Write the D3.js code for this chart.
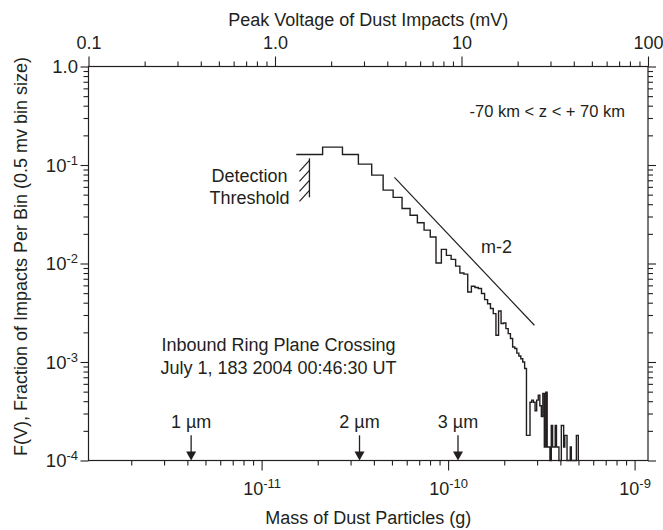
<!DOCTYPE html>
<html><head><meta charset="utf-8">
<script src="https://cdn.jsdelivr.net/npm/d3@7"></script>
<style>
html,body{margin:0;padding:0;background:#fff;}
svg{display:block;font-family:"Liberation Sans",Arial,Helvetica,sans-serif;}
</style></head><body>
<svg id="chart" width="663" height="530"></svg>
<script>
// Peak-voltage histogram: 0.5 mV bins starting at 1.3 mV, fraction of impacts per bin
const binStart = 1.3;
const binWidth = 0.5;
const binFraction = [
  0.128, 0.152, 0.128, 0.102, 0.0789, 0.0556, 0.0469, 0.0362, 0.0309, 0.0259,
  0.0218, 0.0186, 0.0101, 0.0139, 0.0121, 0.0110, 0.0094, 0.0080, 0.0078, 0.00514,
  0.00588, 0.0057, 0.00557, 0.00496, 0.0043, 0.0039, 0.00349, 0.0031, 0.00187, 0.0033,
  0.00246, 0.00249, 0.00218, 0.00194, 0.00173, 0.00142, 0.00137, 0.00123, 0.00115, 0.00108,
  0.0010, 0.00086, 0.00018, 0.00018, 0.00039, 0.00041, 0.00039, 0.00032, 0.00041, 0.00046,
  0.00036, 0.00028, 0.00048, 0.000137, 0.000495, 0.000137, 0.000137, 0, 0.000227, 0.000137,
  0.000137, 0.000227, 0.000137, 0.000137, 0, 0, 0.000227, 0.000227, 0.000137, 0.00018,
  0.00018, 0, 0, 0, 0.000137, 0, 0, 0, 0, 0,
  0.00018, 0.00018
];

// Axis ticks and labels
const voltageTicks = [0.1, 1, 10, 100];
const voltageTickLabels = ["0.1", "1.0", "10", "100"];
const massTicks = [1e-11, 1e-10, 1e-9];
const massTickExponents = ["-11", "-10", "-9"];
const fractionTicks = [1, 1e-1, 1e-2, 1e-3, 1e-4];
const fractionTickBases = ["1.0", "10", "10", "10", "10"];
const fractionTickExponents = ["", "-1", "-2", "-3", "-4"];

// Particle radius markers (mass in grams)
const radiusLabels = ["1 \u00b5m", "2 \u00b5m", "3 \u00b5m"];
const radiusMass = [4.19e-12, 3.35e-11, 1.13e-10];

// Power-law reference line F = c * V^-2
const slopeVoltage = [4.37, 24.6];
const slopeCoef = 1.43;
const slopeExp = -2;

// Detection threshold
const thresholdVoltage = 1.53;
const thresholdFraction = [0.117, 0.047];

const L = 88.5, R = 648, T = 66.5, B = 460.5;
const ink = "#231f20";

const svg = d3.select("#chart");
const xV = d3.scaleLog().domain([0.1, 100]).range([L, R]);
const xM = d3.scaleLog().domain([1.18e-12, 1.18e-9]).range([L, R]);
const y = d3.scaleLog().domain([1e-4, 1]).range([B, T]);
const yMin = y.domain()[0];

const isDecade = d => Math.abs(Math.log10(d) - Math.round(Math.log10(d))) < 1e-6;

function styleAxis(g) {
  g.select(".domain").remove();
  g.selectAll(".tick line").attr("stroke", ink).attr("stroke-width", 1.1);
  g.selectAll(".tick text").remove();
}

// Top axis: voltage
svg.append("g").attr("transform", `translate(0,${T})`)
  .call(d3.axisTop(xV).tickValues(xV.ticks().filter(d => !isDecade(d))).tickSize(5).tickFormat(""))
  .call(styleAxis);
const topMajor = svg.append("g").attr("transform", `translate(0,${T})`)
  .call(d3.axisTop(xV).tickValues(voltageTicks).tickSize(10).tickFormat(""))
  .call(styleAxis);
topMajor.selectAll(".tick").append("text")
  .attr("y", -17.5).attr("text-anchor", "middle")
  .attr("font-size", 18).attr("fill", ink)
  .text((d, i) => voltageTickLabels[i]);

// Bottom axis: mass
svg.append("g").attr("transform", `translate(0,${B})`)
  .call(d3.axisBottom(xM).tickValues(xM.ticks().filter(d => !isDecade(d))).tickSize(5).tickFormat(""))
  .call(styleAxis);
const botMajor = svg.append("g").attr("transform", `translate(0,${B})`)
  .call(d3.axisBottom(xM).tickValues(massTicks).tickSize(10).tickFormat(""))
  .call(styleAxis);
const botText = botMajor.selectAll(".tick").append("text")
  .attr("y", 34.5).attr("text-anchor", "middle")
  .attr("font-size", 18).attr("fill", ink);
botText.append("tspan").text("10");
botText.append("tspan").attr("font-size", 13).attr("dy", -7).text((d, i) => massTickExponents[i]);

// Left and right axes: fraction per bin
[["left", L, d3.axisLeft], ["right", R, d3.axisRight]].forEach(([side, xp, ax]) => {
  svg.append("g").attr("transform", `translate(${xp},0)`)
    .call(ax(y).tickValues(y.ticks().filter(d => !isDecade(d))).tickSize(5).tickFormat(""))
    .call(styleAxis);
  const major = svg.append("g").attr("transform", `translate(${xp},0)`)
    .call(ax(y).tickValues(fractionTicks).tickSize(8).tickFormat(""))
    .call(styleAxis);
  if (side === "left") {
    const t = major.selectAll(".tick").append("text")
      .attr("x", -10.5).attr("dy", "0.34em").attr("text-anchor", "end")
      .attr("font-size", 18.5).attr("fill", ink);
    t.append("tspan").text((d, i) => fractionTickBases[i]);
    t.append("tspan").attr("font-size", 13).attr("dy", -7).text((d, i) => fractionTickExponents[i]);
  }
});

// Plot frame
svg.append("rect").attr("x", L).attr("y", T).attr("width", R - L).attr("height", B - T)
  .attr("fill", "none").attr("stroke", ink).attr("stroke-width", 1.2);

// Axis titles
svg.append("text").attr("x", (L + R) / 2).attr("y", 26).attr("text-anchor", "middle")
  .attr("font-size", 18).attr("fill", ink).text("Peak Voltage of Dust Impacts (mV)");
svg.append("text").attr("x", (L + R) / 2).attr("y", 524).attr("text-anchor", "middle")
  .attr("font-size", 18).attr("fill", ink).text("Mass of Dust Particles (g)");
svg.append("text").attr("transform", `translate(27,${(T + B) / 2 - 7}) rotate(-90)`)
  .attr("text-anchor", "middle").attr("font-size", 18).attr("fill", ink)
  .text("F(V), Fraction of Impacts Per Bin (0.5 mv bin size)");

// Histogram step line
const pts = binFraction.map((f, k) => ({ v: binStart + k * binWidth, f: Math.max(f, yMin) }));
const lastEdge = binStart + binFraction.length * binWidth;
pts.push({ v: lastEdge, f: pts[pts.length - 1].f });
pts.push({ v: lastEdge, f: yMin });
svg.append("path")
  .attr("d", d3.line().x(d => xV(d.v)).y(d => y(d.f)).curve(d3.curveStepAfter)(pts))
  .attr("fill", "none").attr("stroke", ink).attr("stroke-width", 1.4)
  .attr("stroke-linejoin", "miter");

// m^-2 reference line
svg.append("path")
  .attr("d", d3.line().x(d => xV(d)).y(d => y(slopeCoef * Math.pow(d, slopeExp)))(slopeVoltage))
  .attr("stroke", ink).attr("stroke-width", 1.2).attr("fill", "none");
svg.append("text").attr("x", xV(15.4)).attr("y", y(0.0127)).attr("text-anchor", "middle")
  .attr("font-size", 18).attr("fill", ink).text("m-2");

// Detection threshold marker with hatching
const thX = xV(thresholdVoltage);
const thY0 = y(thresholdFraction[0]), thY1 = y(thresholdFraction[1]);
svg.append("line").attr("x1", thX).attr("x2", thX).attr("y1", thY0).attr("y2", thY1)
  .attr("stroke", ink).attr("stroke-width", 1.3);
d3.range(4).forEach(i => {
  const yy = thY0 + 2 + i * 10;
  svg.append("line").attr("x1", thX).attr("y1", yy).attr("x2", thX - 10).attr("y2", yy + 11)
    .attr("stroke", ink).attr("stroke-width", 1.2);
});
svg.append("text").attr("x", xV(0.73)).attr("y", y(0.0666)).attr("text-anchor", "middle")
  .attr("font-size", 18).attr("fill", ink).text("Detection");
svg.append("text").attr("x", xV(0.73)).attr("y", y(0.0401)).attr("text-anchor", "middle")
  .attr("font-size", 18).attr("fill", ink).text("Threshold");

// Annotations
svg.append("text").attr("x", R - 23).attr("y", 117).attr("text-anchor", "end")
  .attr("font-size", 16.5).attr("fill", ink).text("-70 km < z < + 70 km");
svg.append("text").attr("x", xV(1.044)).attr("y", y(0.00129)).attr("text-anchor", "middle")
  .attr("font-size", 18).attr("fill", ink).text("Inbound Ring Plane Crossing");
svg.append("text").attr("x", xV(1.044)).attr("y", y(0.00075)).attr("text-anchor", "middle")
  .attr("font-size", 18).attr("fill", ink).text("July 1, 183 2004 00:46:30 UT");

// Particle radius arrows
const arrowTop = y(1.8e-4);
radiusMass.forEach((m, i) => {
  const ax = xM(m);
  svg.append("line").attr("x1", ax).attr("x2", ax).attr("y1", arrowTop).attr("y2", B - 6)
    .attr("stroke", ink).attr("stroke-width", 1.3);
  svg.append("path").attr("d", `M${ax - 5},${B - 9}L${ax + 5},${B - 9}L${ax},${B}Z`).attr("fill", ink);
  svg.append("text").attr("x", ax).attr("y", arrowTop - 7).attr("text-anchor", "middle")
    .attr("font-size", 18).attr("fill", ink).text(radiusLabels[i]);
});
</script>
</body></html>
